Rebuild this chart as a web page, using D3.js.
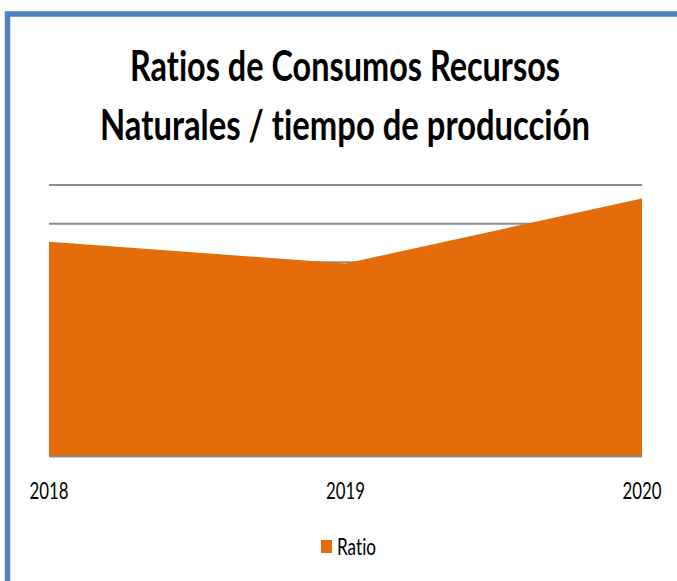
<!DOCTYPE html>
<html>
<head>
<meta charset="utf-8">
<script src="https://cdn.jsdelivr.net/npm/d3@7"></script>
<style>
  html, body { margin: 0; padding: 0; background: #fff; overflow: hidden; }
  text { font-family: Lato, "Open Sans", sans-serif; fill: #000; font-variant-ligatures: none; }
</style>
</head>
<body>
<div id="chart"></div>
<script>
var width = 677;
var height = 581;

// data
var years = ['2018', '2019', '2020'];
var ratio = [5.53, 4.97, 6.65];
var gridTicks = [0, 1, 2, 3, 4, 5, 6, 7];
var titleLines = ['Ratios de Consumos Recursos', 'Naturales / tiempo de producción'];
var seriesName = 'Ratio';

var plot = { left: 49, right: 642, top: 185, bottom: 455.5 };
var orange = '#E46C0A';

var svg = d3.select('#chart')
    .append('svg')
    .attr('width', width)
    .attr('height', height);

svg.append('rect')
    .attr('width', width)
    .attr('height', height)
    .style('fill', 'white');

// frame of the chart box
svg.append('rect')
    .attr('x', 7.5)
    .attr('y', 14)
    .attr('width', width + 20)
    .attr('height', height + 20)
    .style('fill', 'none')
    .style('stroke', '#4F81BD')
    .style('stroke-width', 5.5);

// title, glyphs drawn a little taller like the reference
var titleY = [81, 140];
var titleLen = [430, 490];
titleLines.forEach(function (t, i) {
    svg.append('text')
        .attr('transform', 'translate(345,' + titleY[i] + ') scale(1,1.12)')
        .attr('text-anchor', 'middle')
        .attr('textLength', titleLen[i])
        .attr('lengthAdjust', 'spacingAndGlyphs')
        .style('font-size', '38px')
        .style('font-weight', 'bold')
        .text(t);
});

var x = d3.scalePoint()
    .domain(years)
    .range([plot.left, plot.right]);

var y = d3.scaleLinear()
    .domain([0, 7])
    .range([plot.bottom, plot.top]);

// gridlines
svg.append('g')
    .selectAll('line')
    .data(gridTicks)
    .enter()
    .append('line')
    .attr('x1', plot.left)
    .attr('x2', plot.right)
    .attr('y1', function (d) { return y(d); })
    .attr('y2', function (d) { return y(d); })
    .style('stroke', '#8C8C8C')
    .style('stroke-width', 2);

var points = years.map(function (yr, i) { return { year: yr, value: ratio[i] }; });

var area = d3.area()
    .x(function (d) { return x(d.year); })
    .y0(y(0))
    .y1(function (d) { return y(d.value); });

svg.append('path')
    .datum(points)
    .attr('d', area)
    .style('fill', orange);

// x axis line
svg.append('line')
    .attr('x1', plot.left)
    .attr('x2', plot.right)
    .attr('y1', y(0) + 1)
    .attr('y2', y(0) + 1)
    .style('stroke', '#8C8C8C')
    .style('stroke-width', 2);

// x tick labels
svg.append('g')
    .selectAll('text')
    .data(years)
    .enter()
    .append('text')
    .attr('x', function (d) { return x(d); })
    .attr('y', 499)
    .attr('text-anchor', 'middle')
    .attr('textLength', 39)
    .attr('lengthAdjust', 'spacingAndGlyphs')
    .style('font-size', '23px')
    .text(function (d) { return d; });

// legend
svg.append('rect')
    .attr('x', 321)
    .attr('y', 540)
    .attr('width', 11)
    .attr('height', 13)
    .style('fill', orange);

svg.append('text')
    .attr('x', 337)
    .attr('y', 555)
    .attr('textLength', 39)
    .attr('lengthAdjust', 'spacingAndGlyphs')
    .style('font-size', '23px')
    .text(seriesName);
</script>
</body>
</html>
